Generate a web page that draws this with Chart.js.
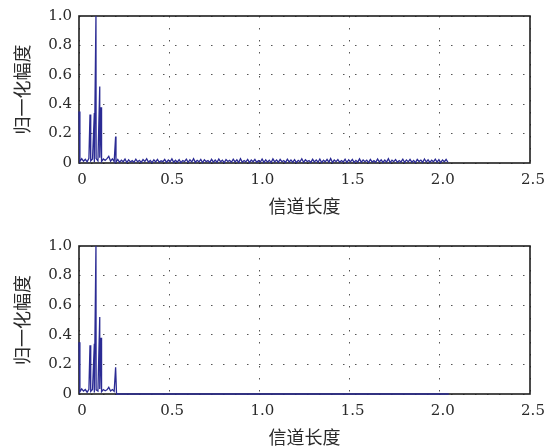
<!DOCTYPE html>
<html>
<head>
<meta charset="utf-8">
<script src="https://cdn.jsdelivr.net/npm/chart.js@4.4.1/dist/chart.umd.min.js"></script>
<style>
  html, body { margin: 0; padding: 0; background: #fff; }
  .box { position: absolute; left: 0; width: 559px; height: 224px; }
  #b1 { top: 0; }
  #b2 { top: 224px; }
</style>
</head>
<body>
<div class="box" id="b1"><canvas id="c1" width="559" height="224"></canvas></div>
<div class="box" id="b2"><canvas id="c2" width="559" height="224"></canvas></div>
<script>
// ---- data ----
const xTicks = [0, 0.5, 1.0, 1.5, 2.0, 2.5];
const yTicks = [0, 0.2, 0.4, 0.6, 0.8, 1.0];
const xTitle = '信道长度';
const yTitle = '归一化幅度';

// dominant multipath peaks (channel length, normalized amplitude)
const peakX = [0, 0.061, 0.085, 0.094, 0.115, 0.122, 0.203];
const peakY = [0.35, 0.33, 0.34, 1.0, 0.52, 0.38, 0.18];

// noise floor samples (top panel), sample spacing 0.01 starting at 0.005
const noiseStart = 0.005;
const noiseStep = 0.01;
const topNoise = [
  0.010, 0.030, 0.012, 0.025, 0.008, 0.032, 0.015, 0.028, 0.006, 0.030,
  0.014, 0.035, 0.010, 0.027, 0.018, 0.030, 0.045, 0.012, 0.028, 0.010,
  0.006, 0.024, 0.004, 0.019, 0.009, 0.027, 0.003, 0.021, 0.007, 0.016,
  0.005, 0.026, 0.008, 0.018, 0.004, 0.023, 0.010, 0.029, 0.006, 0.017,
  0.003, 0.022, 0.007, 0.025, 0.005, 0.015, 0.009, 0.024, 0.004, 0.020,
  0.008, 0.028, 0.005, 0.019, 0.006, 0.023, 0.003, 0.017, 0.010, 0.026,
  0.004, 0.021, 0.007, 0.030, 0.005, 0.018, 0.008, 0.024, 0.003, 0.022,
  0.009, 0.016, 0.004, 0.025, 0.006, 0.020, 0.005, 0.027, 0.008, 0.019,
  0.003, 0.023, 0.010, 0.018, 0.005, 0.026, 0.007, 0.021, 0.004, 0.029,
  0.006, 0.017, 0.008, 0.024, 0.003, 0.020, 0.009, 0.025, 0.005, 0.016,
  0.007, 0.027, 0.004, 0.022, 0.006, 0.019, 0.003, 0.028, 0.008, 0.021,
  0.005, 0.024, 0.009, 0.017, 0.004, 0.026, 0.007, 0.020, 0.006, 0.023,
  0.003, 0.018, 0.008, 0.029, 0.005, 0.022, 0.010, 0.016, 0.004, 0.025,
  0.007, 0.021, 0.005, 0.027, 0.003, 0.019, 0.008, 0.024, 0.006, 0.030,
  0.004, 0.020, 0.009, 0.023, 0.005, 0.017, 0.007, 0.026, 0.003, 0.022,
  0.008, 0.025, 0.004, 0.018, 0.006, 0.028, 0.005, 0.021, 0.009, 0.019,
  0.003, 0.024, 0.007, 0.016, 0.005, 0.027, 0.008, 0.022, 0.004, 0.020,
  0.006, 0.029, 0.003, 0.019, 0.009, 0.023, 0.005, 0.017, 0.007, 0.026,
  0.004, 0.021, 0.008, 0.025, 0.006, 0.018, 0.003, 0.024, 0.010, 0.020,
  0.005, 0.027, 0.007, 0.022, 0.004, 0.019, 0.008, 0.026, 0.006, 0.023,
  0.003, 0.021, 0.009, 0.024, 0.005
];

// noise floor samples (bottom panel), only before 0.2, then zero
const bottomNoise = [
  0.015, 0.035, 0.020, 0.030, 0.012, 0.032, 0.018, 0.030, 0.010, 0.028,
  0.020, 0.034, 0.015, 0.030, 0.022, 0.028, 0.045, 0.020, 0.030, 0.018
];
const bottomTailX = [0.208, 2.05];
const bottomTailY = [0, 0];

// ---- build datasets ----
function buildSeries(noise, tailX, tailY) {
  const pts = [];
  peakX.forEach((x, i) => pts.push({ x: x, y: peakY[i] }));
  noise.forEach((v, i) => pts.push({ x: noiseStart + i * noiseStep, y: v }));
  (tailX || []).forEach((x, i) => pts.push({ x: x, y: tailY[i] }));
  pts.sort((a, b) => a.x - b.x);
  return pts;
}

const lineColor = '#2b2b94';
const tickFont = { family: "'DejaVu Serif', serif", size: 15 };
const titleFont = { family: "'Noto Sans CJK SC', sans-serif", size: 18 };
const fmt = v => (Math.abs(v) < 1e-9 ? '0' : Number(v).toFixed(1));

const framePlugin = {
  id: 'frame',
  beforeDatasetsDraw(chart) {
    const { ctx, chartArea: a } = chart;
    ctx.save();
    ctx.strokeStyle = '#1e1e1e';
    ctx.lineWidth = 1.6;
    ctx.strokeRect(a.left, a.top, a.right - a.left, a.bottom - a.top);
    ctx.restore();
  }
};

function makeChart(id, data, padTop, xAxisH, titlePadBottom) {
  return new Chart(document.getElementById(id), {
    type: 'line',
    data: {
      datasets: [{
        data: data,
        borderColor: lineColor,
        borderWidth: 1.3,
        pointRadius: 0,
        tension: 0,
        fill: false,
        clip: 3
      }]
    },
    options: {
      responsive: false,
      devicePixelRatio: 1,
      animation: false,
      layout: { padding: { top: padTop, right: 29, left: 0, bottom: 0 } },
      plugins: { legend: { display: false }, tooltip: { enabled: false } },
      scales: {
        x: {
          type: 'linear',
          min: 0, max: 2.5,
          afterBuildTicks: s => { s.ticks = xTicks.map(v => ({ value: v })); },
          afterFit: s => { s.height = xAxisH; },
          ticks: { font: tickFont, color: '#2a2a2a', padding: 8, labelOffset: 3, maxRotation: 0, callback: fmt },
          grid: { color: '#555555', lineWidth: 1, drawTicks: false },
          border: { display: false, dash: [1.5, 10.5] },
          title: { display: true, text: xTitle, font: titleFont, color: '#2a2a2a', padding: { top: 4, bottom: titlePadBottom } }
        },
        y: {
          min: 0, max: 1,
          afterBuildTicks: s => { s.ticks = yTicks.map(v => ({ value: v })); },
          afterFit: s => { s.width = 79; },
          ticks: { font: tickFont, color: '#2a2a2a', padding: 7, callback: fmt },
          grid: { color: '#555555', lineWidth: 1, drawTicks: false },
          border: { display: false, dash: [1.5, 10.5] },
          title: { display: true, text: yTitle, font: titleFont, color: '#2a2a2a', padding: { top: 11, bottom: 4 } }
        }
      }
    },
    plugins: [framePlugin]
  });
}

makeChart('c1', buildSeries(topNoise), 15, 61, 7);
makeChart('c2', buildSeries(bottomNoise, bottomTailX, bottomTailY), 22, 54, 0);
</script>
</body>
</html>
